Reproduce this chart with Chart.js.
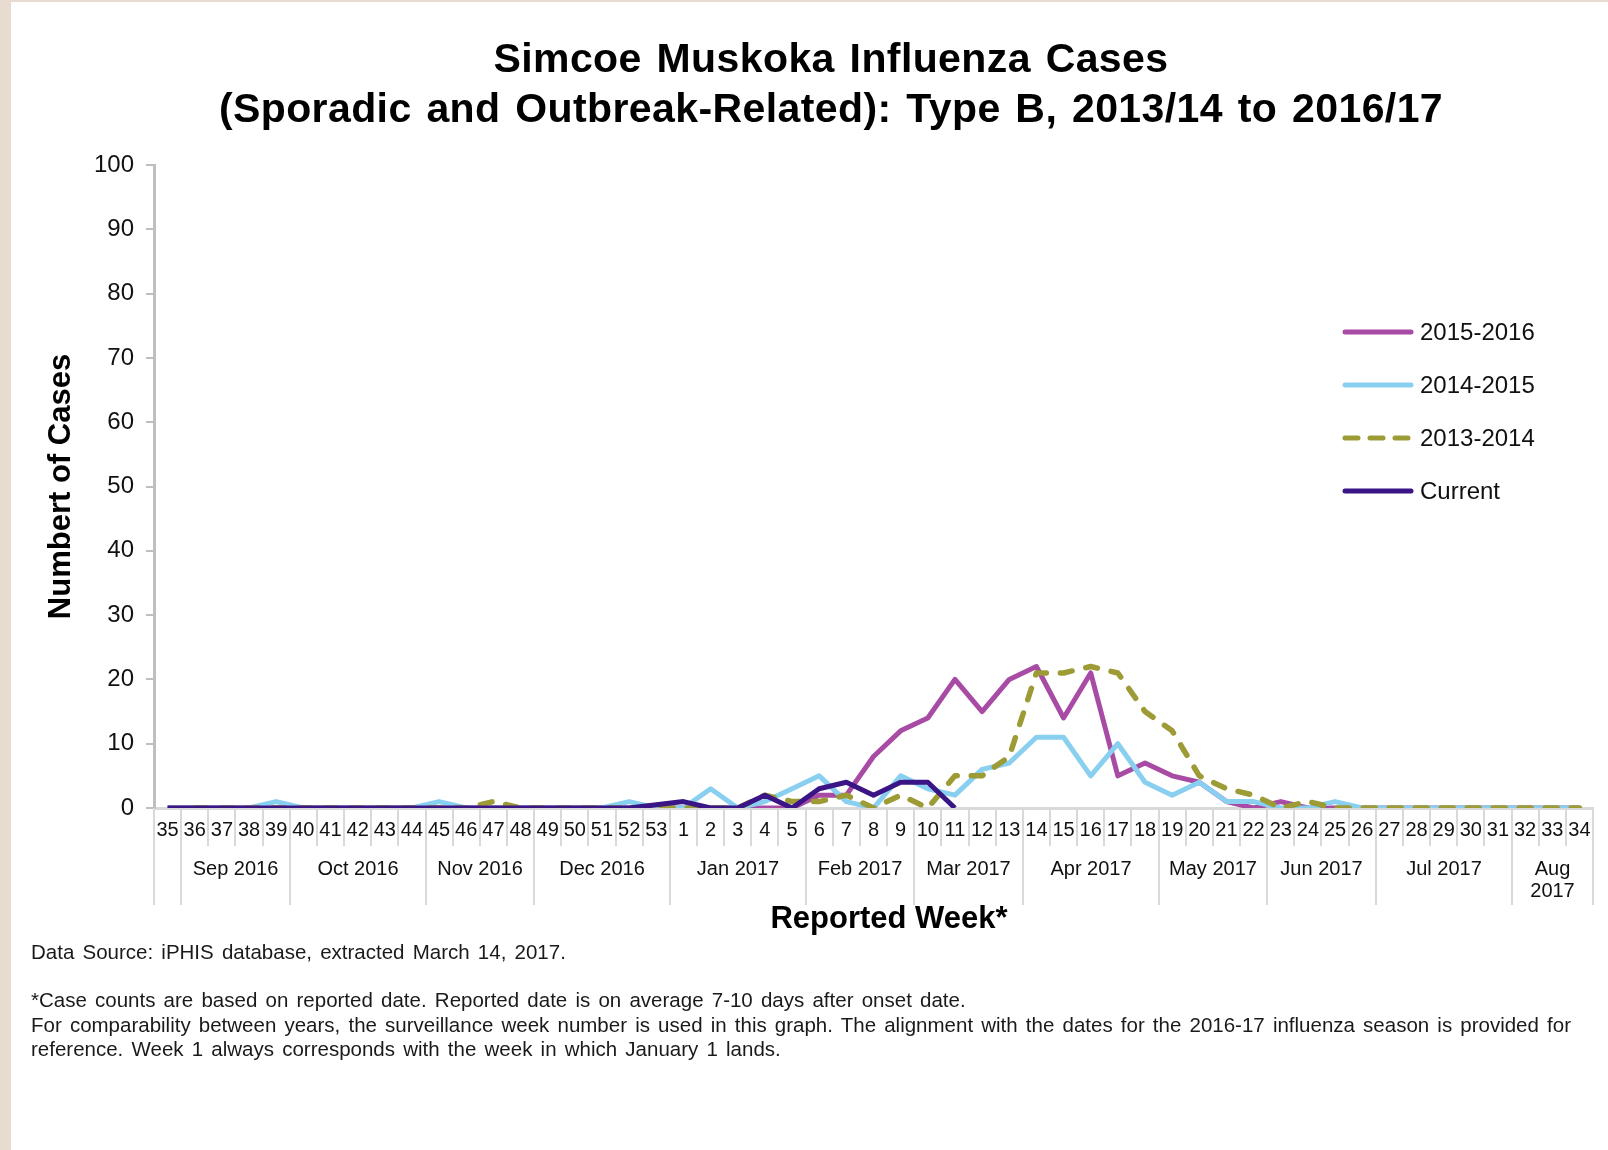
<!DOCTYPE html>
<html>
<head>
<meta charset="utf-8">
<script src="https://cdn.jsdelivr.net/npm/chart.js@4.4.1/dist/chart.umd.min.js"></script>
<style>
  html, body { margin: 0; padding: 0; background: #ffffff; }
  body { width: 1608px; height: 1150px; position: relative; overflow: hidden; font-family: 'Liberation Sans', Arial, sans-serif; }
  .stripe-left { position: absolute; left: 0; top: 0; width: 11px; height: 1150px; background: #e7dccf; }
  .stripe-top { position: absolute; left: 0; top: 0; width: 1608px; height: 2px; background: #e7dccf; }
  #chart { position: absolute; left: 0; top: 0; }
  .title { position: absolute; left: 131px; top: 33px; width: 1400px; text-align: center; white-space: nowrap;
           font-weight: bold; font-size: 41px; line-height: 50px; color: #000; letter-spacing: 0.4px; word-spacing: 3px; }
  .notes { position: absolute; left: 31px; width: 1540px; font-size: 20.5px; line-height: 24.5px; color: #1a1a1a; word-spacing: 2.5px; }
  .notes p { margin: 0; white-space: nowrap; }
  .notes p.justify { word-spacing: 0; text-align: justify; text-align-last: justify; }
</style>
</head>
<body>
<div class="stripe-left"></div>
<div class="stripe-top"></div>
<canvas id="chart" width="1608" height="1150"></canvas>
<div class="title">Simcoe Muskoka Influenza Cases<br>(Sporadic and Outbreak-Related): Type B, 2013/14 to 2016/17</div>
<div class="notes" style="top: 940px;"><p>Data Source: iPHIS database, extracted March 14, 2017.</p></div>
<div class="notes" style="top: 988px;">
  <p>*Case counts are based on reported date. Reported date is on average 7-10 days after onset date.</p>
  <p class="justify">For comparability between years, the surveillance week number is used in this graph. The alignment with the dates for the 2016-17 influenza season is provided for</p>
  <p>reference. Week 1 always corresponds with the week in which January 1 lands.</p>
</div>
<script>
// Surveillance weeks (35 .. 53, then 1 .. 34)
const WEEKS = ['35', '36', '37', '38', '39', '40', '41', '42', '43', '44', '45', '46', '47', '48', '49', '50', '51', '52', '53',
  '1', '2', '3', '4', '5', '6', '7', '8', '9', '10', '11', '12', '13', '14', '15', '16', '17', '18', '19', '20',
  '21', '22', '23', '24', '25', '26', '27', '28', '29', '30', '31', '32', '33', '34'];

// Month groups under the week row (number of weeks in each)
const MONTH_LABELS = ['', 'Sep 2016', 'Oct 2016', 'Nov 2016', 'Dec 2016', 'Jan 2017', 'Feb 2017', 'Mar 2017',
  'Apr 2017', 'May 2017', 'Jun 2017', 'Jul 2017', ['Aug', '2017']];
const MONTH_SPANS = [1, 4, 5, 4, 5, 5, 4, 4, 5, 4, 4, 5, 3];

// Weekly case counts per season
const SEASON_2015_16 = [0, 0, 0, 0, 0, 0, 0, 0, 0, 0, 0, 0, 0, 0, 0, 0, 0, 0, 0,
  0, 0, 0, 0, 0, 2, 2, 8, 12, 14, 20, 15, 20, 22, 14, 21, 5, 7, 5, 4,
  1, 0, 1, 0, 0, 0, 0, 0, 0, 0, 0, 0, 0, 0];
const SEASON_2014_15 = [0, 0, 0, 0, 1, 0, 0, 0, 0, 0, 1, 0, 0, 0, 0, 0, 0, 1, 0,
  0, 3, 0, 1, 3, 5, 1, 0, 5, 3, 2, 6, 7, 11, 11, 5, 10, 4, 2, 4,
  1, 1, 0, 0, 1, 0, 0, 0, 0, 0, 0, 0, 0, 0];
const SEASON_2013_14 = [null, 0, 0, 0, 0, 0, 0, 0, 0, 0, 0, 0, 1, 0, 0, 0, 0, 0, 0,
  0, 0, 0, 2, 1, 1, 2, 0, 2, 0, 5, 5, 8, 21, 21, 22, 21, 15, 12, 5,
  3, 2, 0, 1, 0, 0, 0, 0, 0, 0, 0, 0, 0, 0];
const SEASON_CURRENT = [0, 0, 0, 0, 0, 0, 0, 0, 0, 0, 0, 0, 0, 0, 0, 0, 0, 0, null,
  1, 0, 0, 2, 0, 3, 4, 2, 4, 4, 0, null, null, null, null, null, null, null, null, null,
  null, null, null, null, null, null, null, null, null, null, null, null, null, null];

const FONT = "'Liberation Sans', Arial, sans-serif";
const TEXT = '#111111';
const AXIS_GREY = '#d9d9d9';

/**
 * Two-level category labels: week separators, month names and month dividers
 */
const monthAxisPlugin = {
  id: 'monthAxis',
  afterDraw(chart) {
    const ctx = chart.ctx;
    const xs = chart.scales.x;
    const half = (xs.getPixelForValue(1) - xs.getPixelForValue(0)) / 2;
    const base = xs.top;

    ctx.save();
    ctx.strokeStyle = AXIS_GREY;
    ctx.lineWidth = 2;

    // short lines between each week
    for (let i = 0; i <= WEEKS.length; i++) {
      const x = Math.round(xs.getPixelForValue(i) - half);
      ctx.beginPath();
      ctx.moveTo(x, base);
      ctx.lineTo(x, base + 38);
      ctx.stroke();
    }

    // month dividers and labels
    ctx.fillStyle = TEXT;
    ctx.font = `20px ${FONT}`;
    ctx.textAlign = 'center';
    ctx.textBaseline = 'middle';
    let start = 0;
    MONTH_SPANS.forEach((span, g) => {
      const x0 = Math.round(xs.getPixelForValue(start) - half);
      const x1 = Math.round(xs.getPixelForValue(start + span - 1) + half);
      ctx.beginPath();
      ctx.moveTo(x0, base);
      ctx.lineTo(x0, base + 97);
      ctx.stroke();
      const label = MONTH_LABELS[g];
      const lines = Array.isArray(label) ? label : [label];
      lines.forEach((line, k) => ctx.fillText(line, (x0 + x1) / 2, base + 61 + k * 22));
      start += span;
    });
    const xEnd = Math.round(xs.getPixelForValue(WEEKS.length - 1) + half);
    ctx.beginPath();
    ctx.moveTo(xEnd, base);
    ctx.lineTo(xEnd, base + 97);
    ctx.stroke();

    // axis title
    ctx.font = `bold 31px ${FONT}`;
    ctx.fillStyle = '#000';
    ctx.fillText('Reported Week*', 889, base + 111);
    ctx.restore();
  }
};

/**
 * Vertical legend inside the plot, on the right
 */
const sideLegendPlugin = {
  id: 'sideLegend',
  afterDraw(chart) {
    const ctx = chart.ctx;
    ctx.save();
    ctx.font = `24px ${FONT}`;
    ctx.textBaseline = 'middle';
    ctx.textAlign = 'left';
    chart.data.datasets.forEach((ds, i) => {
      const y = 332 + i * 53;
      ctx.strokeStyle = ds.borderColor;
      ctx.lineWidth = 5;
      ctx.lineCap = 'round';
      ctx.setLineDash(ds.borderDash ? [13, 12] : []);
      ctx.beginPath();
      ctx.moveTo(1345, y);
      ctx.lineTo(1411, y);
      ctx.stroke();
      ctx.setLineDash([]);
      ctx.fillStyle = TEXT;
      ctx.fillText(ds.label, 1420, y + 1);
    });
    ctx.restore();
  }
};

new Chart(document.getElementById('chart'), {
  type: 'line',
  data: {
    labels: WEEKS,
    datasets: [
      {
        label: '2015-2016',
        data: SEASON_2015_16,
        borderColor: '#a84ba4',
        borderWidth: 5,
        order: 4
      },
      {
        label: '2014-2015',
        data: SEASON_2014_15,
        borderColor: '#89cfef',
        borderWidth: 5,
        order: 3
      },
      {
        label: '2013-2014',
        data: SEASON_2013_14,
        borderColor: '#9c9b35',
        borderWidth: 5.5,
        borderDash: [12, 14],
        borderCapStyle: 'round',
        order: 2
      },
      {
        label: 'Current',
        data: SEASON_CURRENT,
        borderColor: '#3a1585',
        borderWidth: 5,
        order: 1
      }
    ]
  },
  options: {
    responsive: false,
    animation: false,
    devicePixelRatio: 1,
    spanGaps: true,
    layout: {
      padding: { left: 0, right: 15, top: 165, bottom: 302 }
    },
    elements: {
      point: { radius: 0, hoverRadius: 0 },
      line: { tension: 0, borderJoinStyle: 'round', fill: false }
    },
    plugins: {
      legend: { display: false },
      title: { display: false },
      tooltip: { enabled: false }
    },
    scales: {
      x: {
        offset: true,
        grid: { display: false, drawTicks: false },
        border: { display: true, color: AXIS_GREY, width: 3 },
        ticks: {
          autoSkip: false,
          maxRotation: 0,
          minRotation: 0,
          padding: 10,
          color: TEXT,
          font: { family: FONT, size: 20 }
        },
        afterFit(scale) { scale.height = 40; }
      },
      y: {
        min: 0,
        max: 100,
        grid: { drawOnChartArea: false, drawTicks: true, tickLength: 8, color: '#bfbfbf', lineWidth: 2 },
        border: { display: true, color: '#bfbfbf', width: 3 },
        ticks: {
          stepSize: 10,
          padding: 12,
          color: TEXT,
          font: { family: FONT, size: 24 }
        },
        title: {
          display: true,
          text: 'Numbert of Cases',
          color: '#000',
          font: { family: FONT, size: 31, weight: 'bold' },
          padding: { top: 43, bottom: 0 }
        },
        afterFit(scale) { scale.width = 154; }
      }
    }
  },
  plugins: [monthAxisPlugin, sideLegendPlugin]
});
</script>
</body>
</html>
